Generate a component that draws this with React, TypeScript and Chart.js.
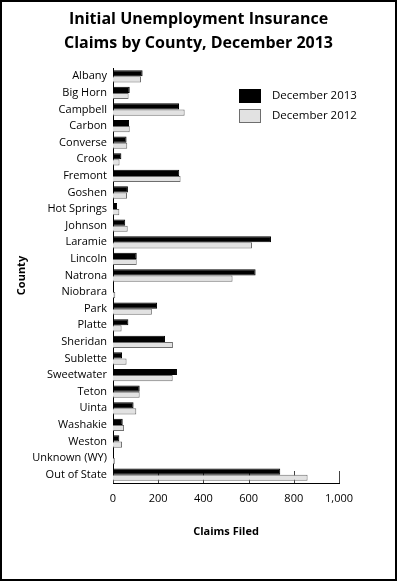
import React, { useEffect, useRef } from 'react';
import { Chart, registerables } from 'chart.js';

Chart.register(...registerables);

const counties = [
  'Albany', 'Big Horn', 'Campbell', 'Carbon', 'Converse', 'Crook', 'Fremont', 'Goshen',
  'Hot Springs', 'Johnson', 'Laramie', 'Lincoln', 'Natrona', 'Niobrara', 'Park', 'Platte',
  'Sheridan', 'Sublette', 'Sweetwater', 'Teton', 'Uinta', 'Washakie', 'Weston',
  'Unknown (WY)', 'Out of State',
];
const dec2013 = [131, 74, 292, 71, 60, 37, 293, 66, 18, 54, 699, 105, 631, 5, 195, 68, 230, 40, 283, 118, 91, 43, 28, 4, 740];
const dec2012 = [124, 69, 317, 74, 63, 29, 299, 62, 28, 65, 615, 105, 529, 10, 172, 38, 265, 60, 264, 118, 103, 49, 40, 8, 861];
const seriesLabels = ['December 2013', 'December 2012'];
const titleLines = ['Initial Unemployment Insurance', 'Claims by County, December 2013'];
const xTicks = [0, 200, 400, 600, 800, 1000];

const FONT = '"Open Sans", "DejaVu Sans", sans-serif';
const LEFT_PAD = 13;

export default function App() {
  const ref = useRef<HTMLCanvasElement | null>(null);

  useEffect(() => {
    document.body.style.margin = '0';
    const canvas = ref.current;
    if (!canvas) return;

    const titlePlugin = {
      id: 'customTitle',
      afterDraw(chart: any) {
        const ctx = chart.ctx;
        ctx.save();
        ctx.fillStyle = '#000';
        ctx.font = `bold 16px ${FONT}`;
        ctx.textAlign = 'center';
        ctx.textBaseline = 'middle';
        titleLines.forEach((line, i) => {
          ctx.fillText(line, 196.5, 17 + i * 24);
        });
        ctx.restore();
      },
    };

    const legendPlugin = {
      id: 'customLegend',
      afterDraw(chart: any) {
        const ctx = chart.ctx;
        ctx.save();
        const items = [
          { label: seriesLabels[0], fill: '#000000', stroke: '#000000', y: 87 },
          { label: seriesLabels[1], fill: '#e2e2e2', stroke: '#6e6e6e', y: 107 },
        ];
        items.forEach((it) => {
          ctx.fillStyle = it.fill;
          ctx.fillRect(237, it.y, 22, 14);
          ctx.strokeStyle = it.stroke;
          ctx.lineWidth = 1;
          ctx.strokeRect(237.5, it.y + 0.5, 21, 13);
          ctx.fillStyle = '#000';
          ctx.font = `11.5px ${FONT}`;
          ctx.textBaseline = 'middle';
          ctx.textAlign = 'left';
          ctx.fillText(it.label, 270, it.y + 7);
        });
        ctx.restore();
      },
    };

    const innerTicks = {
      id: 'innerTicks',
      beforeDatasetsDraw(chart: any) {
        const ctx = chart.ctx;
        const xs = chart.scales.x;
        const bottom = chart.chartArea.bottom;
        ctx.save();
        ctx.strokeStyle = '#444';
        ctx.lineWidth = 1;
        xTicks.forEach((v) => {
          const px = Math.round(xs.getPixelForValue(v)) + 0.5;
          ctx.beginPath();
          ctx.moveTo(px, bottom);
          ctx.lineTo(px, bottom - 12);
          ctx.stroke();
        });
        ctx.restore();
      },
    };

    const chart = new Chart(canvas, {
      type: 'bar',
      data: {
        labels: counties,
        datasets: [
          {
            label: seriesLabels[0],
            data: dec2013,
            backgroundColor: '#000000',
            borderColor: '#000000',
            borderWidth: 1,
            categoryPercentage: 0.74,
            barPercentage: 1.0,
          },
          {
            label: seriesLabels[1],
            data: dec2012,
            backgroundColor: '#e2e2e2',
            borderColor: '#6e6e6e',
            borderWidth: 1,
            categoryPercentage: 0.74,
            barPercentage: 1.0,
          },
        ],
      },
      options: {
        indexAxis: 'y',
        animation: false,
        responsive: false,
        maintainAspectRatio: false,
        color: '#000',
        layout: { padding: { left: LEFT_PAD, right: 56, top: 66, bottom: 0 } },
        plugins: {
          legend: { display: false },
          tooltip: { enabled: false },
          title: { display: false },
        },
        scales: {
          x: {
            min: 0,
            max: 1000,
            afterBuildTicks(scale: any) {
              scale.ticks = xTicks.map((v) => ({ value: v }));
            },
            afterFit(scale: any) {
              scale.height = 96;
            },
            grid: { display: false, drawTicks: false },
            border: { display: true, color: '#000', width: 1 },
            ticks: {
              color: '#000',
              padding: 9,
              maxRotation: 0,
              font: { family: FONT, size: 11 },
              callback: (v: any) => Number(v).toLocaleString('en-US'),
            },
            title: {
              display: true,
              text: 'Claims Filed',
              color: '#000',
              font: { family: FONT, size: 11, weight: 'bold' },
              padding: { top: 0, bottom: 41 },
            },
          },
          y: {
            afterFit(scale: any) {
              scale.width = 111 - LEFT_PAD;
            },
            grid: { display: false, drawTicks: false },
            border: { display: true, color: '#000', width: 1 },
            ticks: {
              color: '#000',
              padding: 6,
              autoSkip: false,
              font: { family: FONT, size: 11 },
            },
            title: {
              display: true,
              text: 'County',
              color: '#000',
              font: { family: FONT, size: 11, weight: 'bold' },
              padding: { top: 0, bottom: 0 },
            },
          },
        },
      },
      plugins: [titlePlugin, legendPlugin, innerTicks],
    } as any);

    return () => chart.destroy();
  }, []);

  return (
    <div
      style={{
        width: 397,
        height: 581,
        border: '2px solid #000',
        boxSizing: 'border-box',
        background: '#fff',
        position: 'relative',
      }}
    >
      <canvas ref={ref} width={393} height={577} style={{ display: 'block', width: 393, height: 577 }} />
    </div>
  );
}
